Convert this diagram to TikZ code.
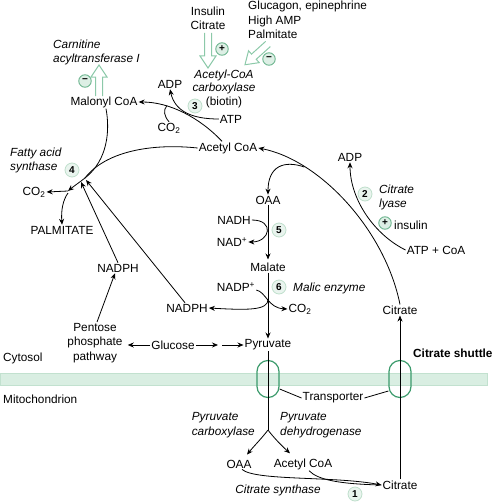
\documentclass[tikz,border=0pt]{standalone}
\usepackage{fontspec}
\setmainfont{Liberation Sans}
\usetikzlibrary{arrows.meta}
\definecolor{numfill}{HTML}{E9F4EE}
\definecolor{numdraw}{HTML}{BFDFCC}
\definecolor{pmfill}{HTML}{DDEFE5}
\definecolor{pmdraw}{HTML}{6DB58F}
\definecolor{garrowc}{HTML}{8CC9A9}
\definecolor{memfill}{HTML}{D9EEE2}
\definecolor{memdraw}{HTML}{C2E1CF}
\definecolor{transc}{HTML}{3C9B6C}
\tikzset{
  txt/.style={font=\fontsize{11.8}{14.5}\selectfont},
  it/.style={font=\fontsize{11.8}{14.5}\selectfont\itshape},
  arr/.style={-{Stealth[length=6pt,width=5pt]}, line width=0.8pt},
  ln/.style={line width=0.8pt},
  numc/.style={circle, fill=numfill, draw=numdraw, line width=0.8pt, minimum size=14pt, inner sep=0pt, font=\fontsize{10}{10}\selectfont\bfseries},
  pmc/.style={circle, fill=pmfill, draw=pmdraw, line width=0.9pt, minimum size=12.5pt, inner sep=0pt, font=\fontsize{10}{10}\selectfont\bfseries},
  garrow/.style={draw=garrowc, line width=1pt, line join=miter},
  transp/.style={draw=transc, line width=1.2pt, rectangle, rounded corners=11pt, minimum width=22pt, minimum height=37pt, inner sep=0pt},
  pics/harrow/.style={code={
    \draw[garrow] (0,-3.5) -- ({#1-12},-3.5) -- ({#1-12},-8) -- (#1,0) -- ({#1-12},8) -- ({#1-12},3.5) -- (0,3.5);
  }}
}
\begin{document}
\begin{tikzpicture}[x=1pt,y=-1pt, every node/.style={txt, inner sep=1pt}]
\useasboundingbox (0,0) rectangle (494,503);

% membrane
\draw[fill=memfill, draw=memdraw, line width=0.5pt] (0,373) rectangle (487,385);

% top regulators
\node (ins) [align=center] at (208,18.5) {Insulin\\Citrate};
\node (glu) [align=left, anchor=west] at (247,20) {Glucagon, epinephrine\\High AMP\\Palmitate};
\node (acc) [align=center, font=\fontsize{11.8}{13.5}\selectfont] at (224,88.5) {{\itshape Acetyl-CoA}\\{\itshape carboxylase}\\(biotin)};
\node (cp1) [pmc] at (222,49) {+};
\node (cm2) [pmc] at (269,59) {−};
\pic[rotate=-90] at (208,33) {harrow=35};
\pic[rotate=222] at (268,44) {harrow=31};

\node (c3) [numc] at (195,106) {3};
\node (adp1) at (170,84) {ADP};
\node (atp1) at (231,119) {ATP};
\node (mal) at (104,102) {Malonyl CoA};
\node (co2a) at (169,128) {CO\textsubscript{2}};
\node (acoa) at (228,148) {Acetyl CoA};
\node (cat) [it, align=left, anchor=west] at (52,52.5) {Carnitine\\acyltransferase I};
\node (cm1) [pmc] at (85,81) {−};
\pic[rotate=90] at (99,96) {harrow=31};

\node (fas) [it, align=left, anchor=west] at (9,160.5) {Fatty acid\\synthase};
\node (c4) [numc] at (72,170) {4};
\node (co2b) at (34,192) {CO\textsubscript{2}};
\node (palm) at (62,230) {PALMITATE};
\node (nadph1) at (118,268) {NADPH};
\node (ppp) [align=center] at (95,343) {Pentose\\phosphate\\pathway};
\node (glc) at (173,345) {Glucose};
\node (cyt) [anchor=west] at (2,358) {Cytosol};
\node (mito) [anchor=west] at (2,399) {Mitochondrion};
\node (pyr) at (268,345) {Pyruvate};
\node (nadph2) at (187,308) {NADPH};
\node (nadpp) at (236,287) {NADP\textsuperscript{+}};
\node (co2c) at (300,309) {CO\textsubscript{2}};
\node (c6) [numc] at (279,287) {6};
\node (malic) [it, anchor=west] at (292,288) {Malic enzyme};
\node (malate) at (268,267) {Malate};
\node (nadh) at (234,220) {NADH};
\node (nadp) at (232,242) {NAD\textsuperscript{+}};
\node (c5) [numc] at (279,230) {5};
\node (oaa1) at (268,200) {OAA};
\node (adp2) at (350,157) {ADP};
\node (c2) [numc] at (365,194) {2};
\node (cl) [it, align=left, anchor=west] at (378,197.5) {Citrate\\lyase};
\node (cp2) [pmc] at (385,223) {+};
\node (ins2) [anchor=west] at (393,225) {insulin};
\node (atpcoa) at (436,250) {ATP + CoA};
\node (cit1) at (400,310) {Citrate};
\node (shuttle) [anchor=west, font=\fontsize{11.8}{14.5}\selectfont\bfseries] at (412,353) {Citrate shuttle};
\node (tr1) [transp] at (268,379) {};
\node (tr2) [transp] at (400,379) {};
\node (trans) at (333,398) {Transporter};
\node (pc) [it, align=left, anchor=east] at (256,425) {Pyruvate\\carboxylase};
\node (pdh) [it, align=left, anchor=west] at (279,425) {Pyruvate\\dehydrogenase};
\node (oaa2) at (239,464) {OAA};
\node (acoa2) at (303,464) {Acetyl CoA};
\node (cit2) at (400,485) {Citrate};
\node (cs) [it] at (278,490) {Citrate synthase};
\node (c1) [numc] at (355,494) {1};

% coordinates
\coordinate (fa) at (85,178);
\coordinate (fa1) at (81,182);
\coordinate (fa2) at (86,180);
\coordinate (fb) at (68,191);
\coordinate (g1) at (218,345);
\coordinate (g2) at (222,345);
\coordinate (m6) at (268,299);
\coordinate (br) at (268,430);

% acetyl-CoA carboxylase
\draw[arr] ([xshift=-6pt]acoa.north) .. controls (200,118) and (170,102) .. (mal.east);
\draw[ln] (co2a.north) .. controls (164,116) and (163,110) .. (167,105.5);
\draw[arr] (atp1.west) .. controls (193,119) and (175,112) .. (adp1.south);

% fatty acid synthase
\draw[ln] (acoa.west) .. controls (150,143) and (105,152) .. (fa);
\draw[ln] ([xshift=2pt]mal.south) .. controls (110,130) and (108,160) .. (fa);
\draw[arr] (fa) .. controls (80,182) and (74,186) .. (fb);
\draw[arr] (fb) -- (co2b.east);
\draw[arr] ([yshift=-2pt]fb) .. controls (63,200) and (61,210) .. (palm.north);
\draw[arr] (nadph1.north) -- (fa1);
\draw[arr] ([xshift=-2pt]nadph2.north) -- (fa2);
\draw[arr] ([xshift=2pt]ppp.north) -- ([xshift=-3pt]nadph1.south);

% glucose
\draw[arr] (glc.west) -- ([xshift=4pt]ppp.east |- glc.west);
\draw[arr] (glc.east) -- (g1);
\draw[arr] (g2) -- (pyr.west);

% malate shuttle
\draw[arr, shorten >=2pt] (oaa1.south) -- (malate.north);
\draw[arr] (malate.south) -- (pyr.north);
\draw[arr] (nadh.east) .. controls (275,220) and (270,242) .. (nadp.east);
\draw[arr] ([yshift=-3pt]nadpp.east) .. controls (266,292) and (268,308) .. (co2c.west);
\draw[arr] (m6) .. controls (269,311) and (245,310) .. (nadph2.east);

% citrate lyase
\draw[arr] (cit1.north) .. controls (385,230) and (320,160) .. (acoa.east) coordinate[pos=0.75] (brA);
\draw[arr] (brA) .. controls (284,160) and (268,166) .. (oaa1.north);
\draw[arr] (atpcoa.west) .. controls (375,235) and (350,200) .. (adp2.south);

% mitochondrion
\draw[arr] (cit2.north) -- (cit1.south);
\draw[ln] (pyr.south) -- (br);
\draw[arr] (br) .. controls (262,438) and (254,446) .. ([xshift=8pt,yshift=4pt]oaa2.north);
\draw[arr] (br) .. controls (274,438) and (282,446) .. ([xshift=-13pt,yshift=4pt]acoa2.north);
\draw[arr] ([xshift=3pt]oaa2.south) .. controls (255,481) and (335,476) .. (cit2.west);
\draw[ln] ([xshift=6pt]acoa2.south) .. controls (318,480) and (340,484) .. (cit2.west);
\draw[ln] (trans.west) -- ([yshift=-10pt]tr1.east);
\draw[ln] (trans.east) -- ([yshift=-12pt]tr2.west);
\end{tikzpicture}
\end{document}
